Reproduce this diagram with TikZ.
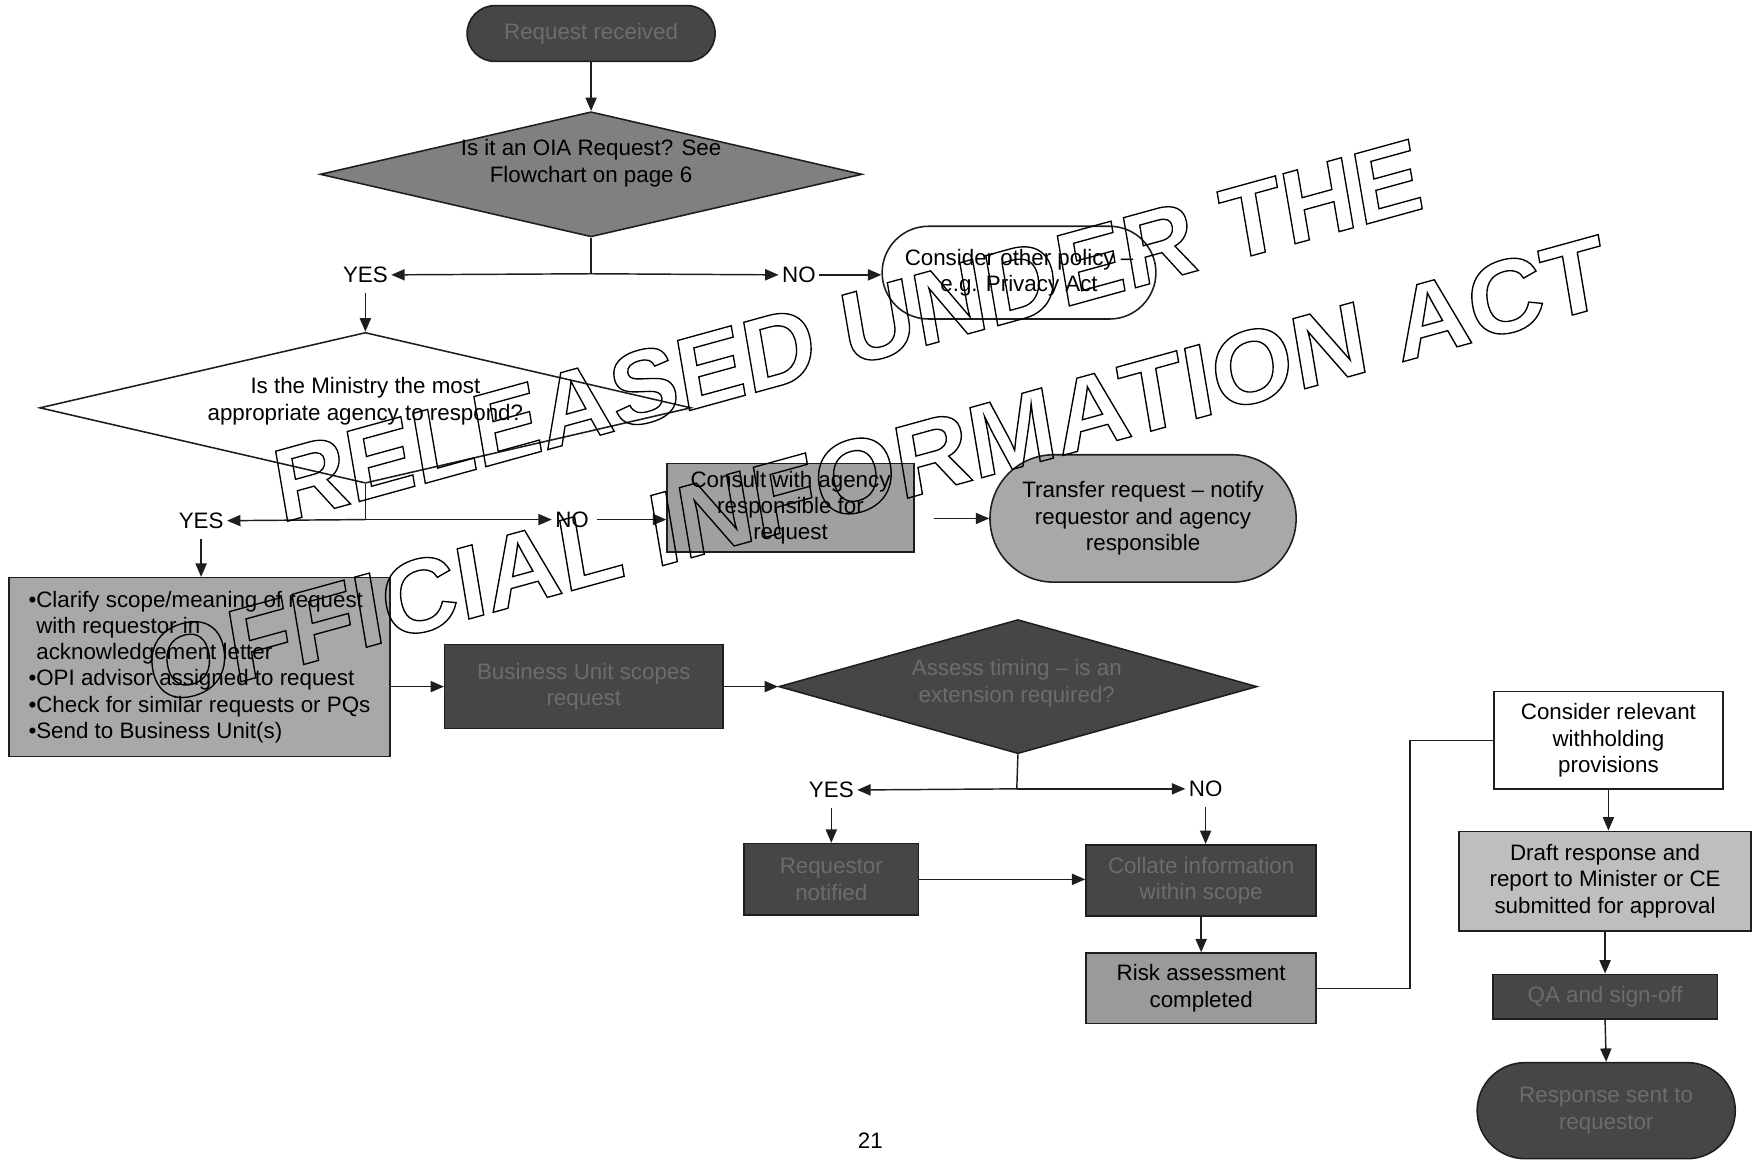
\documentclass[tikz,border=0pt]{standalone}
\usepackage{fontspec}
\setmainfont{Liberation Sans}
\newfontfamily\wmfont[FakeSlant=0.1]{Liberation Sans}
\usetikzlibrary{arrows.meta,shapes.geometric,shapes.misc}
\definecolor{dkfill}{RGB}{70,70,70}
\definecolor{dktext}{RGB}{108,108,108}
\definecolor{mdfill}{RGB}{128,128,128}
\definecolor{ltfill}{RGB}{168,168,168}
\definecolor{cnfill}{RGB}{160,160,160}
\definecolor{drfill}{RGB}{190,190,190}
\definecolor{rkfill}{RGB}{154,154,154}
\definecolor{edge}{RGB}{30,30,30}
\newcommand\outlinetext[1]{\special{pdf:literal direct 1 Tr 1.2 w}#1\special{pdf:literal direct 0 Tr}}
\tikzset{
  txt/.style={inner sep=0pt, align=center, font=\fontsize{20}{23.5}\selectfont},
  shp/.style={draw=edge, line width=1.4pt, inner sep=0pt, align=center, font=\fontsize{20}{23.5}\selectfont},
  boxn/.style={shp, rectangle},
  pilln/.style={shp, rounded rectangle},
  dian/.style={shp, diamond},
  dark/.style={fill=dkfill, text=dktext},
  lbl/.style={inner sep=3pt, font=\fontsize{20}{23.5}\selectfont},
  arr/.style={-{Triangle[length=12pt,width=10pt]}, line width=1.3pt, draw=edge},
  ln/.style={line width=1.3pt, draw=edge},
  wm/.style={inner sep=0pt, font=\wmfont\bfseries\fontsize{92}{92}\selectfont},
}
\begin{document}
\begin{tikzpicture}[x=1pt,y=-1pt]
\fill[white] (0,0) rectangle (1568,1038);
\useasboundingbox (0,0) rectangle (1568,1038);

% top
\node[pilln, dark, minimum width=222pt, minimum height=50pt] (req) at (529,30) {Request received};
\node[dian, fill=mdfill, minimum width=485pt, minimum height=112pt] (d1) at (529,156) {};
\node[txt] (d1t) at (529,146) {Is it an OIA Request? See\\Flowchart on page 6};
\coordinate (j1) at (529,245);
\node[lbl] (yes1) at (327,246) {YES};
\node[lbl] (no1) at (715,246) {NO};
\node[pilln, fill=white, minimum width=245pt, minimum height=83pt] (cons) at (912,244) {Consider other policy –\\e.g. Privacy Act};

% second decision
\node[dian, fill=white, minimum width=583pt, minimum height=135pt] (d2) at (327,365) {};
\node[txt] (d2t) at (327,359) {Is the Ministry the most\\appropriate agency to respond?};
\coordinate (j2) at (327,465);
\node[lbl] (yes2) at (180,466) {YES};
\node[lbl] (no2) at (512,465) {NO};
\node[boxn, fill=cnfill, minimum width=221pt, minimum height=79pt] (consult) at (707.5,454.5) {Consult with agency\\responsible for\\request};
\node[pilln, fill=ltfill, minimum width=274pt, minimum height=114pt] (transfer) at (1023,464) {Transfer request – notify\\requestor and agency\\responsible};

% bullets
\node[boxn, fill=ltfill, align=left, minimum width=341pt, minimum height=160pt] (bul) at (178.5,597) {•Clarify scope/meaning of request\\\phantom{•}with requestor in\\\phantom{•}acknowledgement letter\\•OPI advisor assigned to request\\•Check for similar requests or PQs\\•Send to Business Unit(s)};
\node[boxn, dark, minimum width=249pt, minimum height=75pt] (bu) at (522.5,614.5) {Business Unit scopes\\request};
\node[dian, dark, minimum width=428pt, minimum height=120pt] (d3) at (911,614.5) {};
\node[txt, text=dktext] (d3t) at (910,611.5) {Assess timing – is an\\extension required?};
\coordinate (j3) at (910,706);
\node[lbl] (yes3) at (744,707) {YES};
\node[lbl] (no3) at (1079,706) {NO};
\node[boxn, dark, minimum width=156pt, minimum height=64pt] (reqn) at (744,787) {Requestor\\notified};
\node[boxn, dark, minimum width=206pt, minimum height=64pt] (collate) at (1075,788) {Collate information\\within scope};
\node[boxn, fill=rkfill, minimum width=206pt, minimum height=63pt] (risk) at (1075,884.5) {Risk assessment\\completed};

% right column
\node[boxn, fill=white, minimum width=205pt, minimum height=87pt] (crel) at (1439.5,662.5) {Consider relevant\\withholding\\provisions};
\node[boxn, fill=drfill, minimum width=261pt, minimum height=89pt] (draft) at (1436.5,788.5) {Draft response and\\report to Minister or CE\\submitted for approval};
\node[boxn, dark, minimum width=201pt, minimum height=40pt] (qa) at (1436.5,892) {QA and sign-off};
\node[pilln, dark, minimum width=231pt, minimum height=86pt] (resp) at (1437.5,994) {Response sent to\\requestor};

\node[lbl] (page) at (779,1021) {21};

% connectors
\draw[arr] (req.south) -- (d1.north);
\draw[ln] (d1.south) -- (j1);
\draw[arr] (j1) -- (yes1.east);
\draw[arr] (j1) -- (no1.west);
\draw[arr] (no1.east) -- (no1.east -| cons.west);
\draw[arr, shorten <=6pt] (yes1.south) -- (d2.north);
\draw[ln] (d2.south) -- (j2);
\draw[arr] (j2) -- (yes2.east);
\draw[arr] (j2) -- (no2.west);
\draw[arr, shorten <=4pt] (no2.east) -- (no2.east -| consult.west);
\draw[arr, shorten <=6pt] (yes2.south) -- (yes2.south |- bul.north);
\draw[arr, shorten <=17pt] (consult.east |- transfer.west) -- (transfer.west);
\draw[arr] (bul.east |- bu.west) -- (bu.west);
\draw[arr] (bu.east) -- (d3.west);
\draw[ln] (d3.south) -- (j3);
\draw[arr] (j3) -- (yes3.east);
\draw[arr] (j3) -- (no3.west);
\draw[arr, shorten <=6pt] (yes3.south) -- (reqn.north);
\draw[arr, shorten <=6pt] (no3.south) -- (no3.south |- collate.north);
\draw[arr] (reqn.east) -- (reqn.east -| collate.west);
\draw[arr] (collate.south) -- (risk.north);
\draw[ln] (risk.east) -- ++(83,0) |- (crel.west);
\draw[arr] (crel.south) -- (crel.south |- draft.north);
\draw[arr] (draft.south) -- (draft.south |- qa.north);
\draw[arr] (qa.south) -- (resp.north);

% watermark
\node[wm, rotate=15.4, anchor=base] (wm1) at (764,327) {\outlinetext{RELEASED UNDER THE}};
\node[wm, rotate=15.4, xscale=1.035, anchor=base] (wm2) at (790,452) {\outlinetext{OFFICIAL INFORMATION ACT}};
\end{tikzpicture}
\end{document}
